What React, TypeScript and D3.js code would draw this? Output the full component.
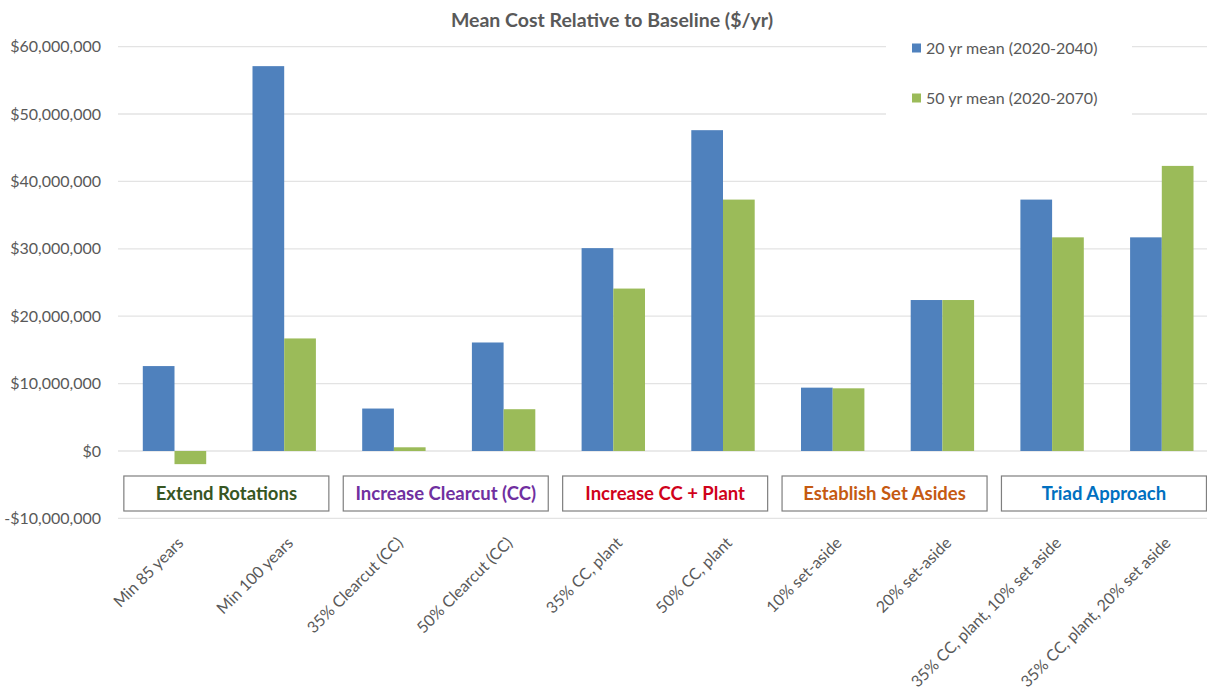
import React from "react";
import * as d3 from "d3";

const categories = [
  "Min 85 years",
  "Min 100 years",
  "35% Clearcut (CC)",
  "50% Clearcut (CC)",
  "35% CC, plant",
  "50% CC, plant",
  "10% set-aside",
  "20% set-aside",
  "35% CC, plant, 10% set aside",
  "35% CC, plant, 20% set aside",
];

const seriesNames = ["20 yr mean (2020-2040)", "50 yr mean (2020-2070)"];
const seriesColors = ["#4F81BD", "#9BBB59"];

const mean20yr = [12.6e6, 57.1e6, 6.3e6, 16.1e6, 30.1e6, 47.6e6, 9.4e6, 22.4e6, 37.3e6, 31.7e6];
const mean50yr = [-1.95e6, 16.7e6, 0.55e6, 6.2e6, 24.1e6, 37.3e6, 9.3e6, 22.4e6, 31.7e6, 42.3e6];

const yTicks = [-10e6, 0, 10e6, 20e6, 30e6, 40e6, 50e6, 60e6];

const groupNames = [
  "Extend Rotations",
  "Increase Clearcut (CC)",
  "Increase CC + Plant",
  "Establish Set Asides",
  "Triad Approach",
];
const groupColors = ["#375623", "#7030A0", "#D0021B", "#C55A11", "#0070C0"];
const groupStarts = [0, 2, 4, 6, 8];

const chartTitle = "Mean Cost Relative to Baseline ($/yr)";

const W = 1207;
const H = 692;
const FONT = "Lato, 'Open Sans', sans-serif";
const TEXT_GREY = "#595959";

export default function App() {
  const x = d3
    .scaleBand<string>()
    .domain(categories)
    .range([119.65, 1216.65])
    .paddingInner(0.422)
    .paddingOuter(0.211);
  const xs = d3.scaleBand<string>().domain(seriesNames).range([0, x.bandwidth()]);
  const y = d3.scaleLinear().domain([-10e6, 60e6]).range([518.4, 46.6]);
  const num = d3.format(",");
  const money = (v: number) => (v < 0 ? "-$" + num(-v) : "$" + num(v));
  const values = [mean20yr, mean50yr];

  return (
    <svg
      width={W}
      height={H}
      style={{ position: "absolute", left: 0, top: 0, background: "#fff" }}
      fontFamily={FONT}
    >
      <rect width={W} height={H} fill="#fff" />
      {/* grid */}
      {yTicks.map((t) => (
        <line key={t} x1={118} x2={W} y1={y(t)} y2={y(t)} stroke="#e3e3e3" strokeWidth={1.3} />
      ))}
      {/* y tick labels */}
      {yTicks.map((t) => (
        <text
          key={"l" + t}
          x={101}
          y={y(t)}
          dy="0.35em"
          textAnchor="end"
          fontSize={16}
          fill={TEXT_GREY}
        >
          {money(t)}
        </text>
      ))}
      {/* bars */}
      {values.map((vals, si) =>
        vals.map((v, i) => {
          const bx = (x(categories[i]) as number) + (xs(seriesNames[si]) as number);
          return (
            <rect
              key={si + "-" + i}
              x={bx}
              width={xs.bandwidth()}
              y={Math.min(y(v), y(0))}
              height={Math.abs(y(v) - y(0))}
              fill={seriesColors[si]}
            />
          );
        })
      )}
      {/* group boxes */}
      {groupNames.map((g, gi) => {
        const c0 = x(categories[groupStarts[gi]]) as number;
        const c1 = (x(categories[groupStarts[gi] + 1]) as number) + x.bandwidth();
        const cx = (c0 + c1) / 2 - 3;
        const bw = 205;
        return (
          <g key={g}>
            <rect
              x={cx - bw / 2}
              y={476}
              width={bw}
              height={35}
              fill="#fff"
              stroke="#7f7f7f"
              strokeWidth={1.2}
            />
            <text
              x={cx}
              y={494}
              dy="0.35em"
              textAnchor="middle"
              fontSize={18.5}
              fontWeight="bold"
              fill={groupColors[gi]}
            >
              {g}
            </text>
          </g>
        );
      })}
      {/* category labels */}
      {categories.map((c) => {
        const cx = (x(c) as number) + x.bandwidth() / 2;
        return (
          <text
            key={c}
            transform={`translate(${cx + 10},${544}) rotate(-45)`}
            textAnchor="end"
            fontSize={16}
            fill={TEXT_GREY}
          >
            {c}
          </text>
        );
      })}
      {/* legend */}
      <rect x={886} y={27} width={246} height={94} fill="#fff" />
      {seriesNames.map((s, si) => (
        <g key={s} transform={`translate(912,${48 + si * 50})`}>
          <rect x={0} y={-4.5} width={9} height={9} fill={seriesColors[si]} />
          <text x={14} y={0} dy="0.35em" fontSize={16} fill={TEXT_GREY}>
            {s}
          </text>
        </g>
      ))}
      {/* title */}
      <text
        x={612}
        y={20}
        dy="0.35em"
        textAnchor="middle"
        fontSize={19.5}
        fontWeight="bold"
        fill={TEXT_GREY}
      >
        {chartTitle}
      </text>
    </svg>
  );
}
